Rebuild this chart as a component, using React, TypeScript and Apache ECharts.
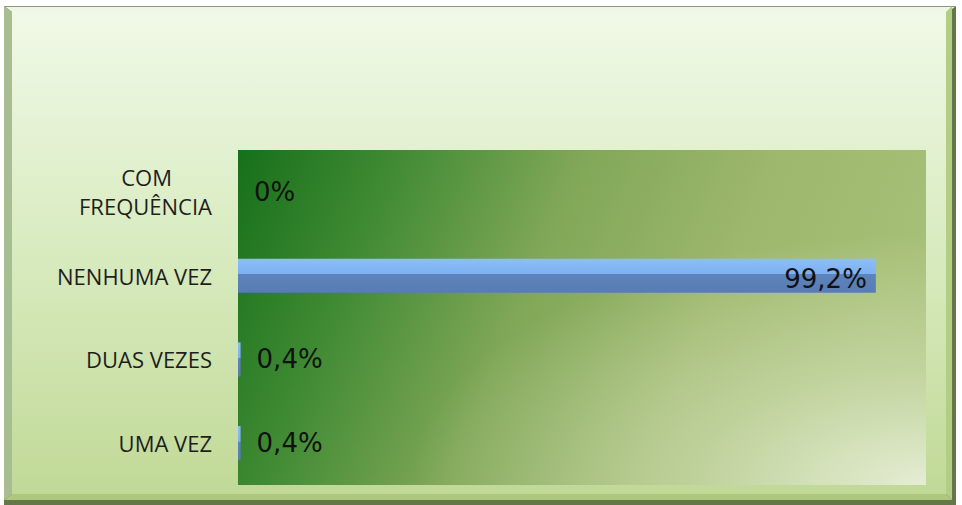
import React, { useEffect, useRef } from "react";
import * as echarts from "echarts";

const categories = ["UMA VEZ", "DUAS VEZES", "NENHUMA VEZ", "COM FREQUÊNCIA"];
const values = [0.4, 0.4, 99.2, 0];
const axisMax = 107;

const GRID = { left: 238, top: 150, right: 36, bottom: 20 };
const W = 962;
const H = 505;

export default function App() {
  const ref = useRef<HTMLDivElement>(null);
  useEffect(() => {
    document.body.style.margin = "0";
    const chart = echarts.init(ref.current!, null, { renderer: "svg" });
    const stopsOf = (stops: [number, string][]) => stops.map(([offset, color]) => ({ offset, color }));
    const lin = (x: number, y: number, x2: number, y2: number, stops: [number, string][]) =>
      new echarts.graphic.LinearGradient(x, y, x2, y2, stopsOf(stops));
    const rad = (x: number, y: number, r: number, stops: [number, string][]) =>
      new echarts.graphic.RadialGradient(x, y, r, stopsOf(stops));
    const nb = "\u00a0".repeat(7);
    const pw = W - GRID.left - GRID.right;
    const ph = H - GRID.top - GRID.bottom;

    chart.setOption({
      animation: false,
      backgroundColor: "#ffffff",
      graphic: [
        { type: "rect", z: -10, shape: { x: 4, y: 6, width: 952, height: 499 }, style: { fill: "#63774b" } },
        { type: "polygon", z: -9, shape: { points: [[4, 6], [956, 6], [948, 12], [12, 12]] }, style: { fill: "#eef7e4" } },
        { type: "line", z: -9, shape: { x1: 4, y1: 6.5, x2: 956, y2: 6.5 }, style: { stroke: "#8a9680", lineWidth: 1 } },
        { type: "polygon", z: -9, shape: { points: [[4, 6], [12, 12], [12, 494], [4, 500]] }, style: { fill: "#a9bd93" } },
        { type: "polygon", z: -9, shape: { points: [[952, 6], [952, 500], [946, 494], [946, 12]] }, style: { fill: "#b3cd84" } },
        { type: "polygon", z: -9, shape: { points: [[4, 500], [952, 500], [946, 494], [12, 494]] }, style: { fill: "#adc87c" } },
        {
          type: "rect", z: -8, shape: { x: 12, y: 12, width: 934, height: 482 },
          style: { fill: lin(0, 0, 0, 1, [[0, "#f0f9e7"], [0.5, "#d8ebbf"], [1, "#c1d997"]]) },
        },
        {
          type: "rect", z: 1, silent: true,
          shape: { x: GRID.left, y: GRID.top, width: pw, height: ph },
          style: {
            fill: rad(1, 1, 0.75, [[0, "rgba(236,242,222,0.9)"], [0.45, "rgba(228,238,208,0.45)"], [1, "rgba(228,238,208,0)"]]),
          },
        },
      ],
      grid: {
        ...GRID,
        show: true, borderWidth: 0,
        backgroundColor: lin(0, 0, 1, 0.2, [[0, "#17701a"], [0.22, "#3f8a33"], [0.48, "#80a757"], [0.75, "#9db76c"], [1, "#a6bf76"]]),
      },
      xAxis: { type: "value", min: 0, max: axisMax, show: false },
      yAxis: {
        type: "category",
        data: categories,
        axisLine: { show: false },
        axisTick: { show: false },
        splitLine: { show: false },
        axisLabel: {
          margin: 26,
          fontFamily: "Open Sans",
          fontSize: 22,
          color: "#1e1e1e",
          lineHeight: 29,
          formatter: (v: string) =>
            v === "COM FREQUÊNCIA" ? "COM" + nb + "\nFREQUÊNCIA" : v,
        },
      },
      series: [
        {
          type: "bar",
          z: 3,
          barWidth: 34,
          data: values.map((v) => ({
            value: v,
            label: v > 50
              ? { show: true, position: "insideRight", distance: 9, offset: [0, 3] }
              : { show: true, position: "right", distance: 16 },
          })),
          itemStyle: {
            color: lin(0, 0, 0, 1, [[0, "#8cbef8"], [0.45, "#7db1f1"], [0.46, "#5d84bd"], [1, "#587cb3"]]),
          },
          label: {
            fontFamily: "DejaVu Sans",
            fontSize: 26,
            color: "#111111",
            formatter: (p: any) => String(p.value).replace(".", ",") + "%",
          },
        },
      ],
    });
    return () => chart.dispose();
  }, []);
  return <div ref={ref} style={{ width: W, height: H }} />;
}
